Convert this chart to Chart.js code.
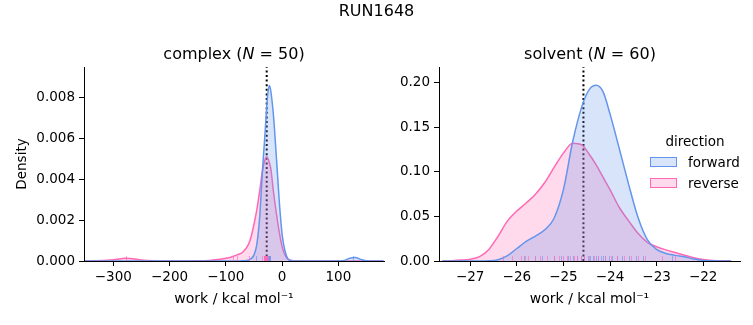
<!DOCTYPE html>
<html>
<head>
<meta charset="utf-8">
<script src="https://cdn.jsdelivr.net/npm/chart.js@4.4.1/dist/chart.umd.min.js"></script>
<style>
  body { margin: 0; background: #fff; font-family: 'DejaVu Sans', sans-serif; }
  #fig { position: relative; width: 753px; height: 325px; overflow: hidden; }
  canvas { position: absolute; top: 0; }
  #complexChart { left: 0; }
  #solventChart { left: 392px; }
  .txt { position: absolute; color: #000; white-space: nowrap; line-height: 18px; }
  .sup { left: 0; width: 753px; top: 2px; text-align: center; font-size: 16px; }
  .ttl { top: 45px; width: 300px; text-align: center; font-size: 16px; }
  .leg { font-size: 13.5px; }
  .patch { position: absolute; width: 25px; height: 8px; border: 1px solid; }
</style>
</head>
<body>
<div id="fig">
  <canvas id="complexChart" width="392" height="325"></canvas>
  <canvas id="solventChart" width="361" height="325"></canvas>

  <div class="txt sup">RUN1648</div>
  <div class="txt ttl" style="left:84px">complex (<i>N</i> = 50)</div>
  <div class="txt ttl" style="left:440px">solvent (<i>N</i> = 60)</div>

  <div class="txt leg" style="left:650px; top:132px; width:90px; text-align:center">direction</div>
  <div class="patch" style="left:650px; top:157px; border-color:#6495ED; background:rgba(100,149,237,0.25)"></div>
  <div class="txt leg" style="left:688px; top:153px">forward</div>
  <div class="patch" style="left:650px; top:178px; border-color:#FF69B4; background:rgba(255,105,180,0.25)"></div>
  <div class="txt leg" style="left:688px; top:174px">reverse</div>
</div>

<script>
// ---- complex leg: KDE ----
var complexX = [-350, -330, -310, -290, -280, -270, -250, -230, -210, -190,
                -170, -150, -130, -110, -100, -90, -80, -70, -60, -55,
                -50, -45, -40, -35, -30, -27.5, -25, -22.5, -20, -15, -10, -5,
                0, 5, 10, 15, 20, 25, 30, 40, 60, 80,
                100, 110, 120, 130, 140, 150, 160, 180];
var complexForward = [0, 0, 0, 0, 0, 0, 0, 0, 0, 0,
                      0, 0, 0, 0, 0, 0, 0, 0.00001, 0.00004, 0.00012,
                      0.0003, 0.0008, 0.0021, 0.0044, 0.0064, 0.0075, 0.0083, 0.0086, 0.0083, 0.0070, 0.0050, 0.0029,
                      0.0013, 0.0005, 0.00012, 0.00003, 0, 0, 0, 0, 0, 0,
                      0, 0.00003, 0.00013, 0.00017, 0.00008, 0.00001, 0, 0];
var complexReverse = [0, 0.00001, 0.00004, 0.0001, 0.00013, 0.00012, 0.00005, 0.00001, 0, 0,
                      0, 0.00001, 0.00003, 0.00008, 0.00013, 0.0002, 0.0003, 0.00043, 0.0008, 0.0012,
                      0.0018, 0.0025, 0.0034, 0.0044, 0.0050, 0.0051, 0.0050, 0.0048, 0.0045, 0.0033, 0.0023, 0.0014,
                      0.0007, 0.0003, 0.0001, 0.00004, 0.00001, 0, 0, 0, 0, 0,
                      0, 0, 0, 0, 0, 0, 0, 0];
var complexRugForward = [-46.5, -33, -31, -30, -29.5, -29, -28.5, -28, -27.5, -27, -26.5, -26,
                         -25.5, -25, -24.5, -24, -23.5, -23, -22.5, -22, -21, 126];
var complexRugReverse = [-278, -87, -80, -58, -35, -33, -32, -31.5, -31, -30.5, -30, -29.5,
                         -29, -28.5, -28, -27.5, -27, -26.5, -26, -25.5];
var complexEstimate = -27.4;
var complexXTicks = [-300, -200, -100, 0, 100];
var complexYTicks = [0, 0.002, 0.004, 0.006, 0.008];

// ---- solvent leg ----
var solventX = [-27.6, -27.4, -27.2, -27.0, -26.8, -26.6, -26.4, -26.2, -26.0, -25.8,
                -25.6, -25.4, -25.2, -25.0, -24.8, -24.6, -24.45, -24.3, -24.15, -24.0, -23.8,
                -23.6, -23.4, -23.2, -23.0, -22.8, -22.6, -22.4, -22.2, -22.0, -21.8,
                -21.6, -21.4];
var solventForward = [0, 0, 0, 0, 0, 0.0002, 0.0015, 0.006, 0.014, 0.022,
                      0.028, 0.035, 0.048, 0.080, 0.134, 0.174, 0.192, 0.197, 0.190, 0.165, 0.126,
                      0.086, 0.049, 0.024, 0.013, 0.0085, 0.0063, 0.0048, 0.0022, 0.0007, 0.0002,
                      0, 0];
var solventReverse = [0, 0.0004, 0.001, 0.002, 0.005, 0.013, 0.028, 0.045, 0.056, 0.065,
                      0.075, 0.088, 0.105, 0.121, 0.132, 0.130, 0.120, 0.108, 0.094, 0.080, 0.060,
                      0.045, 0.031, 0.021, 0.016, 0.0125, 0.0095, 0.0065, 0.0037, 0.0018, 0.0007,
                      0.0002, 0];
var solventRugForward = [-25.85, -25.6, -25.45, -25.2, -25.05, -24.9, -24.8, -24.7, -24.62, -24.55,
                         -24.48, -24.42, -24.36, -24.3, -24.25, -24.2, -24.15, -24.1, -24.02, -23.95,
                         -23.85, -23.75, -23.6, -23.45, -23.3, -22.68];
var solventRugReverse = [-26.3, -26.1, -25.9, -25.82, -25.75, -25.6, -25.5, -25.35, -25.2, -25.1,
                         -25.0, -24.92, -24.85, -24.78, -24.7, -24.62, -24.55, -24.45, -24.35, -24.25,
                         -24.1, -23.98, -23.85, -23.7, -23.55, -23.4, -23.25, -22.88, -22.6];
var solventEstimate = -24.57;
var solventXTicks = [-27, -26, -25, -24, -23, -22];
var solventYTicks = [0, 0.05, 0.10, 0.15, 0.20];

var BLUE = '#6495ED', PINK = '#FF69B4';

Chart.defaults.font.family = "'DejaVu Sans', sans-serif";
Chart.defaults.font.size = 13.5;
Chart.defaults.color = '#000';

function pts(xs, ys) {
  return xs.map(function (x, i) { return { x: x, y: ys[i] }; });
}

function minus(v, dec) {
  var s = dec == null ? String(Math.abs(v)) : Math.abs(v).toFixed(dec);
  return v < 0 ? '\u2212' + s : s;
}

// little tick marks along the bottom (seaborn rug)
var rugPlugin = {
  id: 'rug',
  afterDatasetsDraw: function (chart, args, opts) {
    var ctx = chart.ctx, area = chart.chartArea, sx = chart.scales.x;
    ctx.save();
    ctx.lineWidth = 1;
    opts.sets.forEach(function (set) {
      ctx.strokeStyle = set.color;
      set.values.forEach(function (v) {
        var x = Math.round(sx.getPixelForValue(v)) + 0.5;
        ctx.beginPath();
        ctx.moveTo(x, area.bottom);
        ctx.lineTo(x, area.bottom - 5);
        ctx.stroke();
      });
    });
    ctx.restore();
  }
};

function kde(label, data, color, fill) {
  return {
    label: label,
    data: data,
    borderColor: color,
    backgroundColor: fill,
    borderWidth: 1.5,
    fill: 'origin',
    pointRadius: 0,
    cubicInterpolationMode: 'monotone'
  };
}

function panel(id, cfg) {
  new Chart(document.getElementById(id), {
    type: 'line',
    data: {
      datasets: [
        kde('forward', pts(cfg.xs, cfg.fwd), BLUE, 'rgba(100,149,237,0.25)'),
        kde('reverse', pts(cfg.xs, cfg.rev), PINK, 'rgba(255,105,180,0.25)'),
        {
          label: 'estimate',
          data: [{ x: cfg.est, y: 0 }, { x: cfg.est, y: cfg.yMax }],
          borderColor: '#000',
          borderWidth: 2,
          borderDash: [2, 2.6],
          pointRadius: 0,
          fill: false
        }
      ]
    },
    options: {
      responsive: false,
      animation: false,
      layout: { padding: { top: 67, right: cfg.rightPad, left: 0, bottom: 0 } },
      plugins: {
        legend: { display: false },
        tooltip: { enabled: false },
        rug: { sets: [
          { color: 'rgba(100,149,237,0.6)', values: cfg.rugF },
          { color: 'rgba(255,105,180,0.6)', values: cfg.rugR }
        ] }
      },
      scales: {
        x: {
          type: 'linear',
          min: cfg.xMin, max: cfg.xMax,
          afterBuildTicks: function (s) { s.ticks = cfg.xTicks.map(function (v) { return { value: v }; }); },
          afterFit: function (s) { s.height = 64; },
          ticks: { padding: 3, maxRotation: 0, callback: function (v) { return minus(v); } },
          grid: { drawOnChartArea: false, color: '#000', tickLength: 5, tickWidth: 1 },
          border: { color: '#000', width: 1 },
          title: { display: true, text: 'work / kcal mol\u207B\u00B9', font: { size: 14 }, padding: { top: 0, bottom: 17 } }
        },
        y: {
          min: 0, max: cfg.yMax,
          afterBuildTicks: function (s) { s.ticks = cfg.yTicks.map(function (v) { return { value: v }; }); },
          afterFit: function (s) { s.width = cfg.leftWidth; },
          ticks: { padding: 4, callback: function (v) { return v.toFixed(cfg.yDec); } },
          grid: { drawOnChartArea: false, color: '#000', tickLength: 5, tickWidth: 1 },
          border: { color: '#000', width: 1 },
          title: { display: !!cfg.yTitle, text: cfg.yTitle, padding: { top: 14, bottom: 0 } }
        }
      }
    },
    plugins: [rugPlugin]
  });
}

panel('complexChart', {
  xs: complexX, fwd: complexForward, rev: complexReverse,
  rugF: complexRugForward, rugR: complexRugReverse, est: complexEstimate,
  xMin: -352, xMax: 181, yMax: 0.0095,
  xTicks: complexXTicks, yTicks: complexYTicks, yDec: 3,
  yTitle: 'Density', leftWidth: 84, rightPad: 8
});

panel('solventChart', {
  xs: solventX, fwd: solventForward, rev: solventReverse,
  rugF: solventRugForward, rugR: solventRugReverse, est: solventEstimate,
  xMin: -27.67, xMax: -21.21, yMax: 0.2176,
  xTicks: solventXTicks, yTicks: solventYTicks, yDec: 2,
  yTitle: '', leftWidth: 47, rightPad: 13
});
</script>
</body>
</html>
